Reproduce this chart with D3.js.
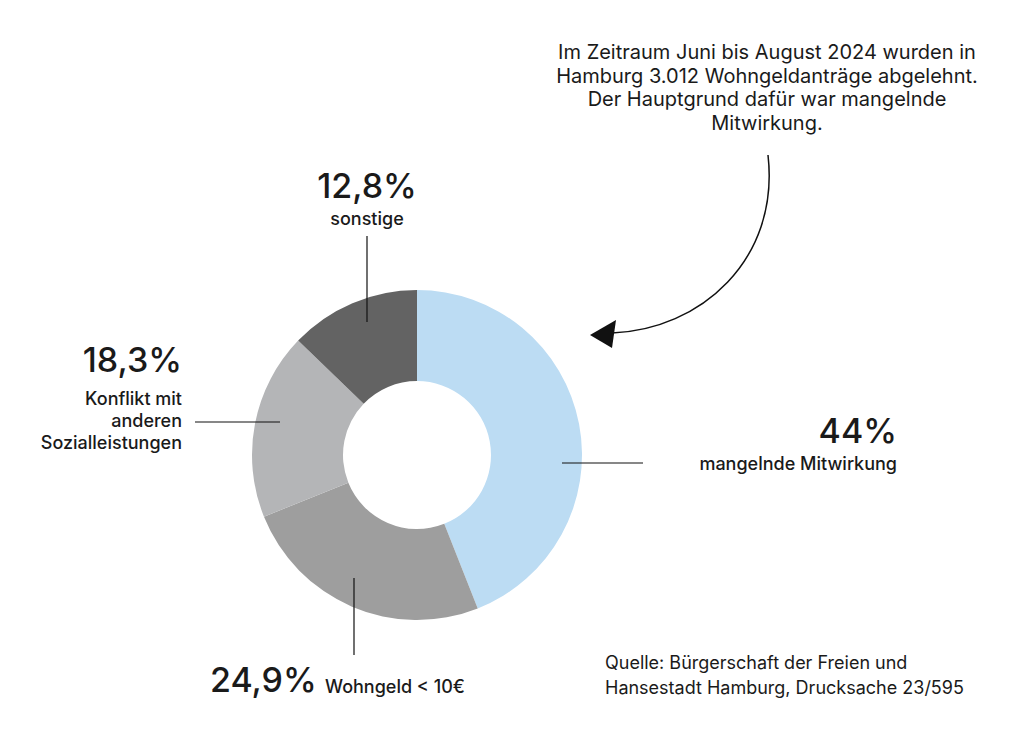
<!DOCTYPE html>
<html><head><meta charset="utf-8">
<script src="https://cdn.jsdelivr.net/npm/d3@7"></script>
<style>body{margin:0;background:#fff}svg{font-family:Inter,"Noto Sans",sans-serif}</style>
</head><body><svg id="c" width="1024" height="731"></svg>
<script>
const categories=["mangelnde Mitwirkung","Wohngeld < 10€","Konflikt mit anderen Sozialleistungen","sonstige"];
const values=[44,24.9,18.3,12.8];
const pctLabels=["44%","24,9%","18,3%","12,8%"];
const colors=["#bcdcf3","#9e9e9e","#b4b5b7","#636363"];
const svg=d3.select("#c");
const cx=417,cy=455;
const pie=d3.pie().sort(null).value(d=>d)(values);
const arc=d3.arc().innerRadius(74).outerRadius(165);
const g=svg.append("g").attr("transform",`translate(${cx},${cy})`);
g.selectAll("path").data(pie).join("path").attr("d",arc).attr("fill",(d,i)=>colors[i]);
const line=(x1,y1,x2,y2)=>svg.append("line").attr("x1",x1).attr("y1",y1).attr("x2",x2).attr("y2",y2).attr("stroke","#111").attr("stroke-width",1.2);
const txt=(x,y,s,size,anchor,w)=>svg.append("text").attr("x",x).attr("y",y).attr("font-size",size).attr("text-anchor",anchor).attr("font-weight",w||500).attr("fill","#1a1a1a").text(s);
// 44%
line(562,463,643,463);
txt(897,443,pctLabels[0],34,"end",500);
txt(897,470,categories[0],18,"end",500);
// 24.9
line(354,578,354,655);
txt(210,692,pctLabels[1],34,"start",500);
txt(325,693,categories[1],18,"start",500);
// 18.3
line(195,422,280,422);
txt(182,372,pctLabels[2],34,"end",500);
["Konflikt mit","anderen","Sozialleistungen"].forEach((s,i)=>txt(182,405+i*22,s,18,"end",500));
// 12.8
line(367,236,367,322);
txt(367,198,pctLabels[3],34,"middle",500);
txt(367,225,categories[3],18,"middle",500);
// annotation
["Im Zeitraum Juni bis August 2024 wurden in","Hamburg 3.012 Wohngeldanträge abgelehnt.","Der Hauptgrund dafür war mangelnde","Mitwirkung."].forEach((s,i)=>txt(767,59+i*23.5,s,20,"middle",400));
svg.append("path").attr("d","M768,155 C780,260 700,330 612,333").attr("fill","none").attr("stroke","#111").attr("stroke-width",1.5);
svg.append("path").attr("d","M590,335 L616,320 L612,348 Z").attr("fill","#111");
// source
txt(605,669,"Quelle: Bürgerschaft der Freien und",18,"start",400);
txt(605,694,"Hansestadt Hamburg, Drucksache 23/595",18,"start",400);
</script></body></html>
